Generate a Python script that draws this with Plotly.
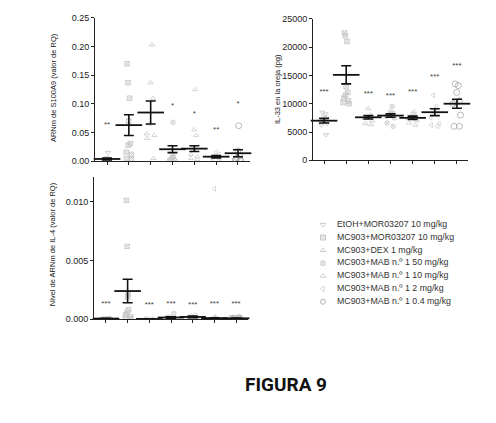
import plotly.graph_objects as go

groups = ['EtOH+MOR03207 10 mg/kg', 'MC903+MOR03207 10 mg/kg', 'MC903+DEX 1 mg/kg',
          'MC903+MAB n.º 1 50 mg/kg', 'MC903+MAB n.º 1 10 mg/kg',
          'MC903+MAB n.º 1 2 mg/kg', 'MC903+MAB n.º 1 0.4 mg/kg']
pos = [1, 2, 3, 4, 5, 6, 7]

# S100A9 mRNA (RQ)
s100_pts = [
    [0.015, 0.006, 0.004, 0.003, 0.002, 0.001, 0.001, 0.0005],
    [0.17, 0.137, 0.11, 0.07, 0.031, 0.028, 0.016, 0.012, 0.005, 0.003],
    [0.203, 0.137, 0.11, 0.065, 0.048, 0.045, 0.04, 0.005],
    [0.068, 0.012, 0.008, 0.006, 0.004, 0.003, 0.002, 0.001],
    [0.125, 0.055, 0.045, 0.02, 0.012, 0.008, 0.005, 0.003],
    [0.016, 0.012, 0.009, 0.006, 0.004, 0.003, 0.002],
    [0.062, 0.018, 0.01, 0.006, 0.004, 0.003, 0.002, 0.001],
]
s100_mean = [0.004, 0.063, 0.085, 0.021, 0.022, 0.008, 0.014]
s100_sem = [0.0015, 0.018, 0.02, 0.006, 0.005, 0.002, 0.006]
s100_star = ['**', '', '', '*', '*', '**', '*']
s100_star_y = [0.063, None, None, 0.097, 0.083, 0.055, 0.1]

# IL-33 in ear (pg)
il33_pts = [
    [8500, 8200, 7800, 7500, 7000, 6800, 6500, 6200, 4500],
    [22500, 22000, 21000, 13000, 12000, 11500, 11000, 10500, 10200, 10000],
    [9200, 8000, 7600, 7400, 7000, 6500, 6300],
    [9500, 8500, 8300, 8000, 7800, 7500, 6600, 6000],
    [8600, 8300, 7900, 7600, 7400, 7000, 6600, 6200],
    [11500, 9500, 9000, 8800, 8500, 7500, 6500, 6200, 6000],
    [13500, 13200, 12000, 10500, 10200, 10000, 8000, 6000, 6000],
]
il33_mean = [7000, 15100, 7600, 7900, 7500, 8500, 10000]
il33_sem = [400, 1600, 300, 300, 300, 600, 800]
il33_star = ['***', '', '***', '***', '***', '***', '***']
il33_star_y = [12000, None, 11800, 11300, 12000, 14800, 16700]

# IL-4 mRNA (RQ)
il4_pts = [
    [0.00015, 0.0001, 0.00005, 0.00003, 0.00002, 0.00001],
    [0.0101, 0.0062, 0.0021, 0.0019, 0.0008, 0.0006, 0.0004, 0.0002, 0.0001, 0.00005],
    [0.00006, 0.00004, 0.00003, 0.00002, 0.00001],
    [0.0005, 0.0002, 0.00015, 0.0001, 0.00008, 0.00005],
    [0.0004, 0.0003, 0.0002, 0.00015, 0.0001, 0.00005],
    [0.0111, 0.0002, 0.00015, 0.0001, 0.00008, 0.00005, 0.00003],
    [0.00015, 0.0001, 0.00008, 0.00006, 0.00004, 0.00002],
]
il4_mean = [0.00006, 0.0024, 0.00003, 0.00015, 0.0002, 0.0001, 0.00008]
il4_sem = [0.00002, 0.001, 0.00001, 0.00006, 0.00007, 0.00003, 0.00002]
il4_star = ['***', '', '***', '***', '***', '***', '***']
il4_star_y = [0.0013, None, 0.0012, 0.0013, 0.0012, 0.0013, 0.0013]

symbols = ['triangle-down-open', 'square-x-open', 'triangle-up-open', 'circle-x-open',
           'triangle-up-open', 'triangle-left-open', 'circle-open']
sizes = [4.5, 4.5, 4.5, 4.5, 4.5, 4.5, 6]
pt_colors = ['#c4c4c4', '#c0c0c0', '#c8c8c8', '#c4c4c4', '#cccccc', '#d0d0d0', '#a8a8a8']

fig = go.Figure()

panels = [
    (s100_pts, s100_mean, s100_sem, s100_star, s100_star_y, 'x', 'y'),
    (il33_pts, il33_mean, il33_sem, il33_star, il33_star_y, 'x2', 'y2'),
    (il4_pts, il4_mean, il4_sem, il4_star, il4_star_y, 'x3', 'y3'),
]

for p, (pts, mean, sem, star, star_y, xa, ya) in enumerate(panels):
    for i in range(7):
        fig.add_trace(go.Box(
            x=[pos[i]] * len(pts[i]), y=pts[i], name=groups[i],
            boxpoints='all', jitter=0.9, pointpos=0, width=0.55,
            fillcolor='rgba(0,0,0,0)', line=dict(width=0, color='rgba(0,0,0,0)'),
            marker=dict(symbol=symbols[i], size=sizes[i], color=pt_colors[i],
                        line=dict(width=0.8, color=pt_colors[i])),
            showlegend=False, hoverinfo='skip', xaxis=xa, yaxis=ya))
    # mean line + SEM whiskers
    fig.add_trace(go.Scatter(
        x=pos, y=mean, mode='markers', showlegend=False, hoverinfo='skip',
        marker=dict(symbol='line-ew-open', size=19, color='#111',
                    line=dict(width=1.8, color='#111')),
        error_y=dict(type='data', array=sem, color='#111', thickness=1.6, width=5),
        xaxis=xa, yaxis=ya, cliponaxis=False))
    fig.add_trace(go.Scatter(
        x=pos, y=star_y, mode='text', text=star, showlegend=False, hoverinfo='skip',
        textfont=dict(size=8, color='#444', family='Liberation Sans'),
        xaxis=xa, yaxis=ya, cliponaxis=False))

# legend drawn as its own little panel
rows = [1, 2, 3, 4, 5, 6, 7]
fig.add_trace(go.Scatter(
    x=[5] * 7, y=rows, mode='markers', showlegend=False, hoverinfo='skip',
    marker=dict(symbol=symbols, size=5, color=pt_colors, line=dict(width=0.9, color=pt_colors)),
    xaxis='x4', yaxis='y4'))
fig.add_trace(go.Scatter(
    x=[19] * 7, y=rows, mode='text', text=groups, textposition='middle right',
    showlegend=False, hoverinfo='skip',
    textfont=dict(family='Liberation Sans', size=8.8, color='#333'),
    xaxis='x4', yaxis='y4', cliponaxis=False))

# page body has an 8px margin, so lay out in screen pixels minus that offset
W, H, OFF = 480, 407, 8


def px(v):
    return (v - OFF) / W


def py(v):
    return 1 - (v - OFF) / H


axis_font = dict(family='Liberation Sans', size=9, color='#222')
common_x = dict(showgrid=False, zeroline=False, showline=True, linecolor='#222', linewidth=1,
                ticks='outside', ticklen=3, tickcolor='#222', tickvals=pos,
                showticklabels=False)
common_y = dict(showgrid=False, zeroline=False, showline=True, linecolor='#222', linewidth=1,
                ticks='outside', ticklen=3, tickcolor='#222', tickfont=axis_font)
title_font = dict(family='Liberation Sans', size=7.5, color='#222')

fig.update_layout(
    width=W, height=H, margin=dict(l=0, r=0, t=0, b=0),
    paper_bgcolor='white', plot_bgcolor='white', boxmode='overlay', showlegend=False,
    xaxis=dict(common_x, domain=[px(95), px(250)], range=[0.45, 7.55], anchor='y'),
    yaxis=dict(common_y, domain=[py(160), py(13)], range=[0, 0.25],
               tickvals=[0, 0.05, 0.10, 0.15, 0.20, 0.25], tickformat='.2f',
               anchor='x'),
    xaxis2=dict(common_x, domain=[px(313), px(468)], range=[0.5, 7.5], anchor='y2'),
    yaxis2=dict(common_y, domain=[py(159), py(14)], range=[0, 25000],
                tickvals=[0, 5000, 10000, 15000, 20000, 25000], tickformat='d',
                anchor='x2'),
    xaxis3=dict(common_x, domain=[px(94), px(248)], range=[0.45, 7.55], anchor='y3'),
    yaxis3=dict(common_y, domain=[py(322), py(176)], range=[0, 0.0121],
                tickvals=[0, 0.005, 0.010], tickformat='.3f', anchor='x3'),
    xaxis4=dict(domain=[px(318), px(488)], range=[0, 170], visible=False, anchor='y4'),
    yaxis4=dict(domain=[py(310.6), py(218.4)], range=[7.5, 0.5], visible=False,
                anchor='x4'),
    annotations=[
        dict(text='ARNm de S100A9 (valor de RQ)', x=px(53), y=py(85), xref='paper',
             yref='paper', textangle=-90, showarrow=False, xanchor='center',
             yanchor='middle', font=title_font),
        dict(text='IL-33 en la oreja (pg)', x=px(277), y=py(86), xref='paper',
             yref='paper', textangle=-90, showarrow=False, xanchor='center',
             yanchor='middle', font=title_font),
        dict(text='Nivel de ARNm de IL-4 (valor de RQ)', x=px(52), y=py(245),
             xref='paper', yref='paper', textangle=-90, showarrow=False,
             xanchor='center', yanchor='middle', font=title_font),
        dict(text='<b>FIGURA 9</b>', x=px(286), y=py(389), xref='paper', yref='paper',
             showarrow=False, xanchor='center', yanchor='middle',
             font=dict(family='Roboto', size=19, color='#111')),
    ],
)

fig.write_html('out.html')
